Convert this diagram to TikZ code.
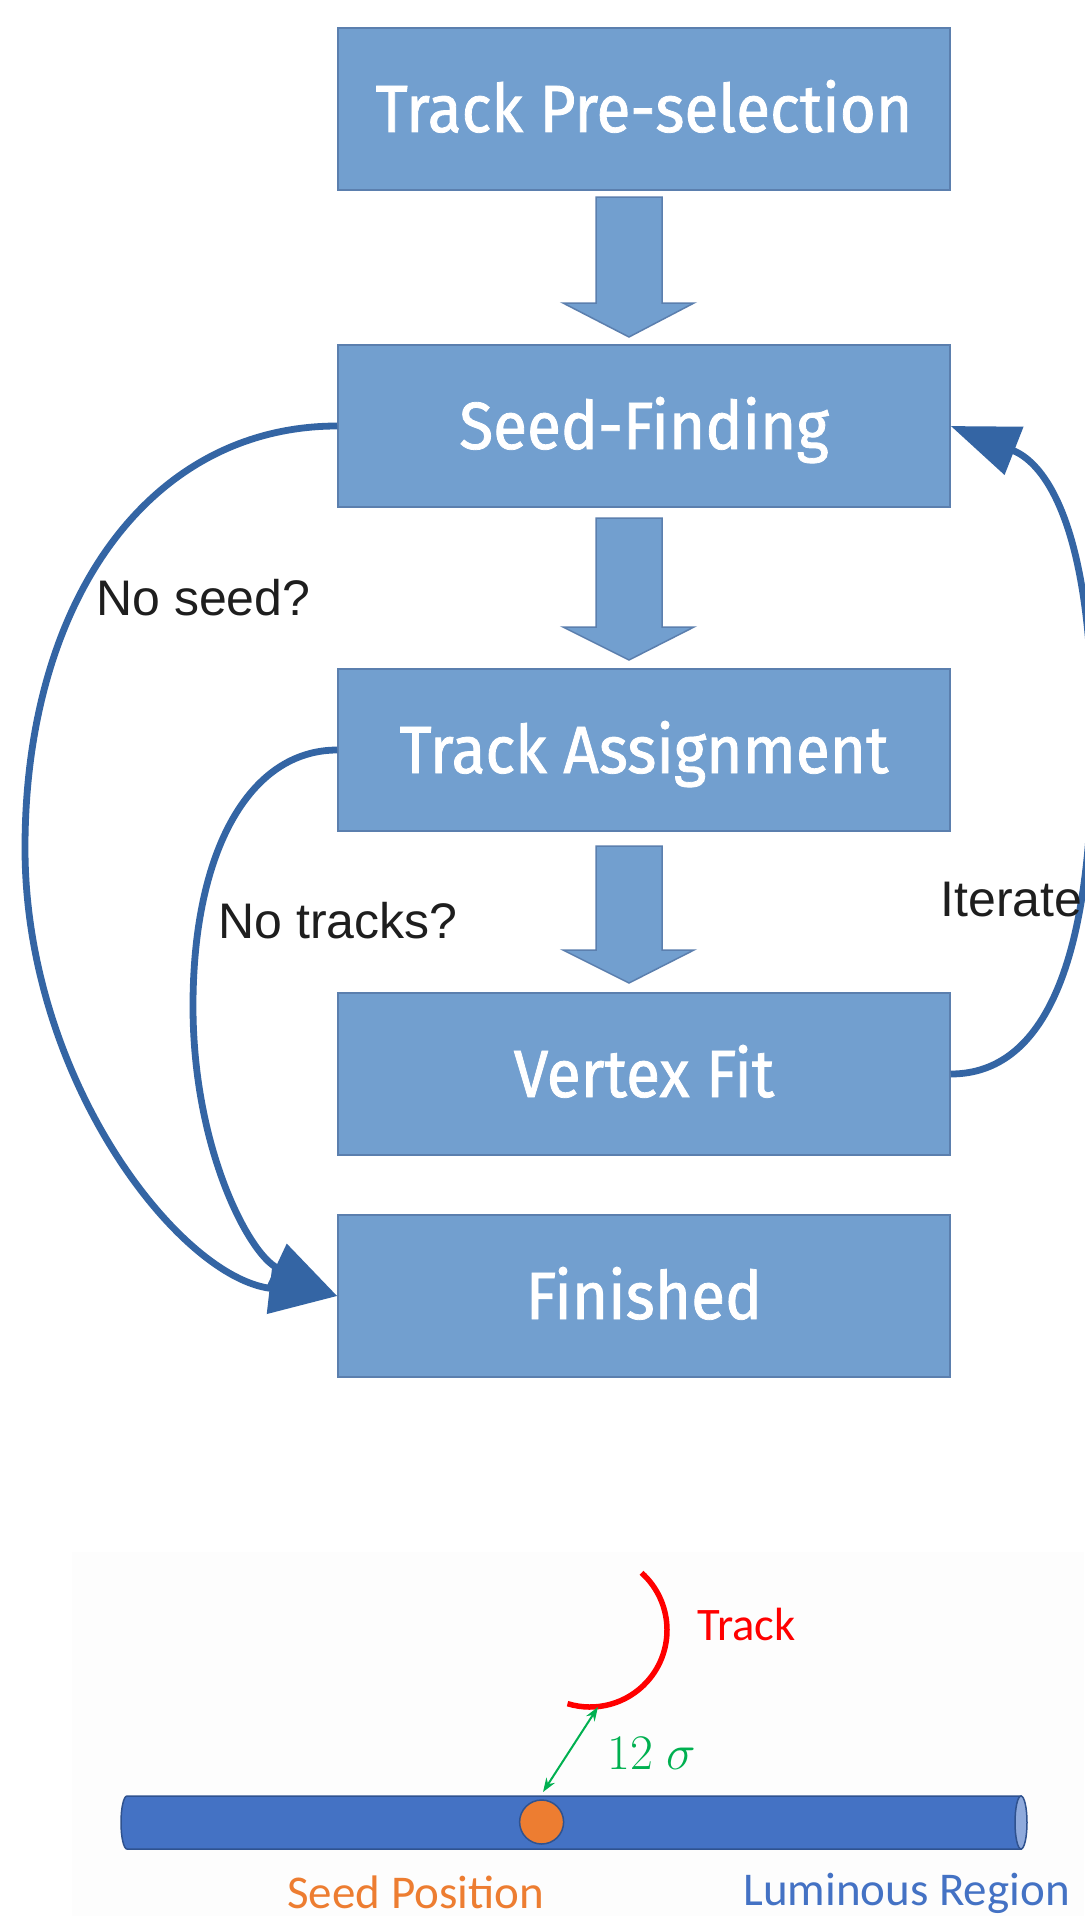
\documentclass[tikz,border=0pt]{standalone}
\usepackage{fontspec}
\usetikzlibrary{arrows.meta,calc}
\newfontfamily\boxfont[FakeStretch=0.93,FakeBold=1.2]{Fira Sans}
\newfontfamily\labfont{Liberation Sans}
\newfontfamily\calfont{Carlito}
\definecolor{boxfill}{HTML}{729FCF}
\definecolor{boxline}{HTML}{5B7FAE}
\definecolor{conn}{HTML}{3465A4}
\definecolor{tubeblue}{HTML}{4472C4}
\definecolor{tubeline}{HTML}{2F528F}
\definecolor{tubeend}{HTML}{8FAADC}
\definecolor{seedorange}{HTML}{ED7D31}
\definecolor{sigmagreen}{HTML}{00B050}
\definecolor{labgray}{HTML}{1E1E1E}
\definecolor{faint}{HTML}{FDFDFD}
\newcommand\blockarrow[3]{\draw[blockarr] (596,#1) -- (662,#1) -- (662,#2) -- (694,#2) -- (629,#3) -- (563,#2) -- (596,#2) -- cycle;}
\begin{document}
\begin{tikzpicture}[x=0.5pt,y=-0.5pt,
  stepbox/.style={draw=boxline,line width=0.75pt,fill=boxfill,minimum width=306pt,minimum height=81pt,inner sep=0pt,text=white,font=\boxfont\fontsize{33.4}{36}\selectfont,text height=23pt,text depth=0pt},
  blockarr/.style={draw=boxline,line width=0.75pt,fill=boxfill},
  loopconn/.style={draw=conn,line width=3.4pt,-{Triangle[length=34pt,width=25pt]}},
  lab/.style={anchor=base west,inner sep=0pt,text=labgray,font=\labfont\fontsize{25}{30}\selectfont},
  cal/.style={anchor=base west,inner sep=0pt,font=\calfont\fontsize{23.5}{28}\selectfont}]
\useasboundingbox (0,0) rectangle (1084,1916);
\fill[white] (0,0) rectangle (1084,1916);

% flow chart boxes
\node[stepbox] (tp) at (644,109) {Track Pre-selection};
\node[stepbox] (sf) at (644,426) {Seed-Finding};
\node[stepbox] (ta) at (644,750) {Track Assignment};
\node[stepbox] (vf) at (644,1074) {Vertex Fit};
\node[stepbox] (fin) at (644,1296) {Finished};

% block arrows
\blockarrow{197}{303}{337}
\blockarrow{518}{627}{660}
\blockarrow{846}{950}{983}

% curved connectors
\draw[loopconn] (sf.west) .. controls (150,426) and (25,600) .. (25,848)
   .. controls (25,1080) and (180,1278) .. (fin.west);
\draw[loopconn] (ta.west) .. controls (250,750) and (193,850) .. (193,1006)
   .. controls (193,1150) and (250,1255) .. (fin.west);
\draw[loopconn] (vf.east) .. controls (1045,1074) and (1092,960) .. (1092,750)
   .. controls (1095,540) and (1050,465) .. (sf.east);

\node[lab] (ns) at (96,615) {No seed?};
\node[lab] (nt) at (218,938) {No tracks?};
\node[lab] (it) at (940,916) {Iterate};

% lower sketch
\fill[faint] (72,1552) rectangle (1084,1916);
\draw[tubeline,fill=tubeblue,line width=0.75pt] (1021,1796) -- (127,1796)
   arc[start angle=90,end angle=270,x radius=3pt,y radius=13.25pt] -- (1021,1849) -- cycle;
\draw[tubeline,fill=tubeend,line width=0.75pt] (1021,1822.5) ellipse[x radius=3pt,y radius=13.25pt];
\node[circle,draw=tubeline,fill=seedorange,line width=0.75pt,minimum size=22pt,inner sep=0pt] (seed) at (541.6,1822) {};

\coordinate (rc) at (590,1630);
\draw[red,line width=2.75pt] ($(rc)+(-48:77)$) arc[start angle=48,end angle=-107,radius=38.5pt];

\coordinate (gA) at (543,1792);
\coordinate (gB) at (598,1707);
\draw[sigmagreen,line width=1pt,{Stealth[length=7pt,width=5pt]}-{Stealth[length=7pt,width=5pt]}] (gA) -- (gB);

\node[anchor=base west,inner sep=0pt,text=sigmagreen,font=\fontsize{23.5}{28}\selectfont] (sig) at (607,1769) {$12\;\sigma$};
\node[cal,text=red,font=\calfont\fontsize{23.3}{28}\selectfont] (trk) at (697,1640) {Track};
\node[cal,text=seedorange] (sp) at (287,1908) {Seed Position};
\node[cal,text=tubeblue] (lr) at (743,1905) {Luminous Region};
\end{tikzpicture}
\end{document}
